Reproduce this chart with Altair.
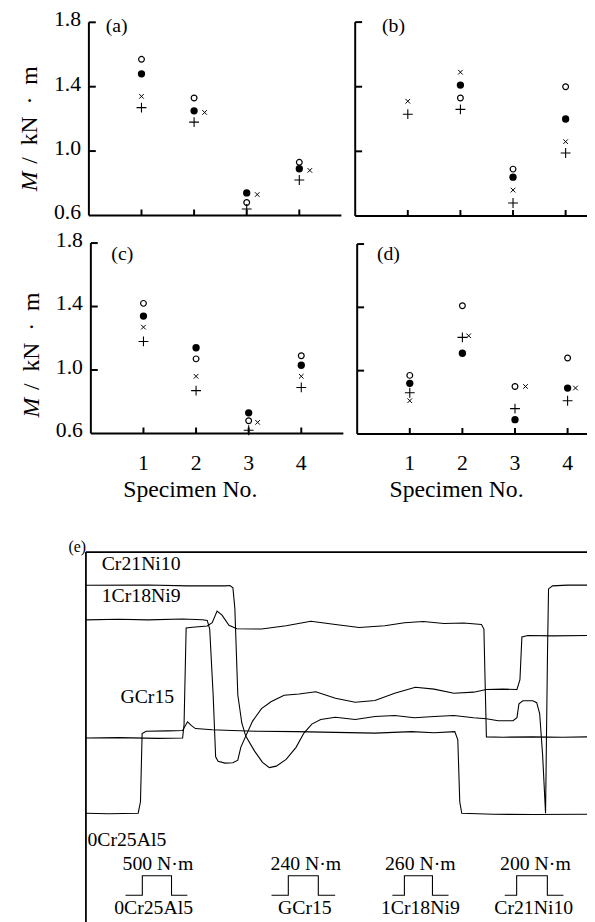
import altair as alt
import pandas as pd

FONT = "Liberation Serif"
W, H = 587, 914          # drawing canvas (page minus the 8px margin)

# ---------------- data: panels (a)-(d) ----------------
specimens = [1, 2, 3, 4]
tick_values = [0.6, 1.0, 1.4, 1.8]
tick_labels = ["0.6", "1.0", "1.4", "1.8"]

a_open = [1.57, 1.33, 0.68, 0.93]
a_filled = [1.48, 1.25, 0.74, 0.89]
a_cross = [1.34, 1.24, 0.73, 0.88]
a_cross_pos = [1.0, 2.2, 3.2, 4.2]
a_plus = [1.27, 1.18, 0.64, 0.82]

b_open = [None, 1.33, 0.89, 1.40]
b_filled = [None, 1.41, 0.84, 1.20]
b_cross = [1.31, 1.49, 0.76, 1.06]
b_cross_pos = [1.0, 2.0, 3.0, 4.0]
b_plus = [1.23, 1.26, 0.68, 0.99]

c_open = [1.42, 1.07, 0.68, 1.09]
c_filled = [1.34, 1.14, 0.73, 1.03]
c_cross = [1.27, 0.96, 0.67, 0.96]
c_cross_pos = [1.0, 2.0, 3.17, 4.0]
c_plus = [1.18, 0.87, 0.62, 0.89]

d_open = [0.97, 1.41, 0.90, 1.08]
d_filled = [0.92, 1.11, 0.69, 0.89]
d_cross = [0.81, 1.22, 0.90, 0.89]
d_cross_pos = [1.0, 2.12, 3.2, 4.15]
d_plus = [0.86, 1.21, 0.76, 0.81]

# ---------------- data: panel (e) traces (time %, signal %) ----------------
cr21_t = [0, 12.45, 20.36, 27.87, 28.85, 29.45, 29.84, 30.43, 31.23, 32.02, 33.79, 35.38, 36.76,
          38.14, 40.12, 42.10, 43.68, 45.26, 47.04, 50.00, 53.95, 57.91, 61.86, 65.81, 69.76,
          73.72, 77.67, 80.24, 82.61, 85.57, 86.36, 86.76, 87.55, 89.53, 90.32, 90.91, 91.50,
          92.09, 92.49, 92.69, 93.48, 96.44, 100.4]
cr21_u = [91.15, 91.25, 91.0, 91.0, 91.1, 90.5, 85.0, 62.0, 54.5, 51.0, 47.0, 44.0, 42.6,
          43.0, 44.8, 48.0, 51.8, 54.2, 55.4, 56.0, 55.4, 56.2, 56.5, 55.9, 56.2,
          56.5, 55.9, 55.6, 55.1, 55.1, 55.9, 59.6, 60.4, 60.4, 59.9, 57.0, 46.0,
          30.46, 74.0, 90.2, 91.0, 91.2, 91.2]

cr18_t = [0, 6.52, 12.45, 19.37, 23.32, 24.31, 24.80, 25.49, 25.99, 26.48, 27.87, 29.45, 30.43,
          31.03, 32.02, 33.40, 35.18, 37.15, 39.72, 42.69, 46.05, 50.00, 53.95, 57.91, 61.86,
          66.01, 69.76, 73.72, 77.67, 80.24, 83.60, 86.36, 86.96, 87.35, 88.54, 93.48, 100.4]
cr18_u = [81.95, 82.1, 81.95, 82.2, 82.0, 81.8, 79.5, 62.0, 45.5, 44.3, 43.8, 43.9, 44.6,
          48.0, 51.0, 55.0, 58.3, 60.2, 61.9, 62.2, 62.8, 61.1, 60.0, 60.5, 62.4,
          64.0, 63.5, 62.4, 62.7, 63.4, 63.5, 63.4, 66.0, 77.4, 77.8, 77.7, 77.8]

gcr15_t = [0, 6.52, 14.43, 19.37, 19.66, 20.08, 21.34, 24.31, 25.30, 26.28, 27.27, 28.66, 30.24,
           35.18, 40.12, 45.06, 50.00, 54.74, 59.88, 63.83, 67.59, 71.74, 75.69, 79.25, 79.74,
           80.04, 80.24, 83.60, 89.53, 95.45, 100.4]
gcr15_u = [50.5, 50.6, 50.4, 50.5, 54.0, 79.8, 80.0, 80.3, 81.2, 84.3, 83.2, 80.5, 79.6,
           79.5, 80.4, 81.6, 80.7, 79.9, 80.4, 81.2, 81.5, 81.0, 81.1, 80.7, 79.5,
           62.0, 50.8, 50.7, 50.8, 50.7, 50.8]

al5_t = [0, 4.55, 10.47, 10.93, 11.26, 12.06, 16.40, 19.37, 20.36, 21.15, 21.94, 25.30, 29.25,
         34.19, 42.10, 50.00, 57.91, 65.22, 69.76, 73.91, 74.51, 74.90, 75.30, 81.62, 89.53, 100.4]
al5_u = [30.46, 30.3, 30.46, 33.5, 51.7, 52.3, 52.4, 52.5, 54.8, 53.8, 53.0, 52.7, 52.5,
         52.3, 52.2, 52.0, 51.8, 52.2, 51.9, 52.2, 50.0, 33.5, 30.46, 30.2, 30.1, 30.2]

trace_names = ["Cr21Ni10", "1Cr18Ni9", "GCr15", "0Cr25Al5"]
trace_label_t = [3.16, 3.16, 6.92, 0.3]
trace_label_u = [96.93, 88.27, 61.47, 23.4]

pulse_names = ["0Cr25Al5", "GCr15", "1Cr18Ni9", "Cr21Ni10"]
pulse_moments = ["500 N·m", "240 N·m", "260 N·m", "200 N·m"]
pulse_edges = [[7.93, 11.30, 17.15, 20.32],
               [37.19, 40.55, 46.56, 49.94],
               [61.40, 63.81, 69.43, 72.65],
               [83.91, 86.30, 92.45, 95.67]]
pulse_base, pulse_top = 8.6, 13.8
moment_label_t = [14.43, 44.07, 67.0, 90.06]
moment_label_u = 16.8
name_label_t = [13.56, 43.87, 67.0, 89.72]
name_label_u = 5.3

PLUS = "M-1,0L1,0M0,-1L0,1"
CROSS = "M-1,-1L1,1M-1,1L1,-1"


def series_df(vals, xs=None):
    xs = xs or specimens
    rows = [{"s": s, "v": v} for s, v in zip(xs, vals) if v is not None]
    return pd.DataFrame(rows)


def text_layer(df, **kw):
    style = dict(font=FONT, fontSize=22, color="black", baseline="middle")
    style.update(kw)
    return alt.Chart(df).mark_text(**style)


def scatter_panel(open_v, filled_v, cross_v, cross_pos, plus_v, label, lab_s, lab_v,
                  xr, yr, left, bottom, title_v):
    xs = alt.Scale(domain=[0, 4.5], range=xr, nice=False, zero=False)
    ys = alt.Scale(domain=[0.6, 1.8], range=yr, nice=False, zero=False)
    X = alt.X("s:Q", scale=xs, axis=None)
    Y = alt.Y("v:Q", scale=ys, axis=None)
    px_v = (yr[0] - yr[1]) / 1.2
    px_s = (xr[1] - xr[0]) / 4.5

    # axis lines and inward ticks
    lines = pd.DataFrame({"s": [0, 0], "v": [0.6, 0.6], "s2": [4.8, 0], "v2": [0.6, 1.8]})
    xt = pd.DataFrame({"s": specimens, "v": [0.6] * 4, "s2": specimens,
                       "v2": [0.6 + 6 / px_v] * 4})
    yt = pd.DataFrame({"s": [0] * 3, "v": tick_values[1:], "s2": [7 / px_s] * 3,
                       "v2": tick_values[1:]})
    rules = alt.Chart(pd.concat([lines, xt, yt])).mark_rule(
        color="black", strokeWidth=2).encode(x=X, y=Y, x2="s2:Q", y2="v2:Q")

    op = alt.Chart(series_df(open_v)).mark_point(
        shape="circle", filled=True, fill="white", stroke="black", strokeWidth=1.2,
        size=34, opacity=1).encode(x=X, y=Y)
    fp = alt.Chart(series_df(filled_v)).mark_point(
        shape="circle", filled=True, color="black", size=55, opacity=1).encode(x=X, y=Y)
    cp = alt.Chart(series_df(cross_v, cross_pos)).mark_point(
        shape=CROSS, filled=False, color="black", strokeWidth=1, size=22, opacity=1
    ).encode(x=X, y=Y)
    pp = alt.Chart(series_df(plus_v)).mark_point(
        shape=PLUS, filled=False, color="black", strokeWidth=1.1, size=100, opacity=1
    ).encode(x=X, y=Y)
    lab = text_layer(pd.DataFrame({"s": [lab_s], "v": [lab_v], "t": [label]}),
                     align="left", fontSize=20, dy=-3).encode(x=X, y=Y, text="t:N")
    layers = [rules, op, fp, cp, pp, lab]
    if left:
        layers.append(text_layer(pd.DataFrame({"s": [0] * 4, "v": tick_values, "t": tick_labels}),
                                 align="right", dx=-8, dy=-3).encode(x=X, y=Y, text="t:N"))
        m_w = 20
        layers.append(text_layer(pd.DataFrame({"s": [0], "v": [title_v], "t": ["M"]}),
                                 align="left", angle=270, dy=-60, fontSize=24,
                                 fontStyle="italic").encode(x=X, y=Y, text="t:N"))
        layers.append(text_layer(pd.DataFrame({"s": [0], "v": [title_v + (m_w + 8) / px_v],
                                               "t": ["/\u2002kN\u2002·\u2002m"]}),
                                 align="left", angle=270, dy=-60, fontSize=24
                                 ).encode(x=X, y=Y, text="t:N"))
    if bottom:
        layers.append(text_layer(pd.DataFrame({"s": specimens, "v": [0.6] * 4,
                                               "t": [str(k) for k in specimens]}),
                                 align="center", dy=30).encode(x=X, y=Y, text="t:N"))
        layers.append(text_layer(pd.DataFrame({"s": [1.89], "v": [0.6], "t": ["Specimen No."]}),
                                 align="center", dy=57, fontSize=24).encode(x=X, y=Y, text="t:N"))
    return alt.layer(*layers)


pa = scatter_panel(a_open, a_filled, a_cross, a_cross_pos, a_plus, "(a)", 0.32, 1.76,
                   [82, 322], [204, 8.2], True, False, 0.75)
pb = scatter_panel(b_open, b_filled, b_cross, b_cross_pos, b_plus, "(b)", 0.51, 1.76,
                   [352, 592], [204.5, 8.0], False, False, 0.75)
pc = scatter_panel(c_open, c_filled, c_cross, c_cross_pos, c_plus, "(c)", 0.39, 1.71,
                   [84, 324], [425, 232], True, True, 0.70)
pd_ = scatter_panel(d_open, d_filled, d_cross, d_cross_pos, d_plus, "(d)", 0.375, 1.72,
                    [354, 594], [425.5, 233], False, True, 0.70)

# ---------------- panel (e) ----------------
ex = alt.Scale(domain=[0, 100], range=[79, 585], nice=False, zero=False)
ey = alt.Scale(domain=[0, 100], range=[926, 545.3], nice=False, zero=False)
EX = alt.X("t:Q", scale=ex, axis=None)
EY = alt.Y("u:Q", scale=ey, axis=None)

frame = alt.Chart(pd.DataFrame({"t": [0, 0], "u": [100, 100], "t2": [101, 0], "u2": [100, -5]})
                  ).mark_rule(color="black", strokeWidth=1.8).encode(x=EX, y=EY, x2="t2:Q", y2="u2:Q")

rows = []
for name, ts, us in zip(trace_names, [cr21_t, cr18_t, gcr15_t, al5_t],
                        [cr21_u, cr18_u, gcr15_u, al5_u]):
    for i, (t, u) in enumerate(zip(ts, us)):
        rows.append({"trace": name, "i": i, "t": t, "u": u})
traces = alt.Chart(pd.DataFrame(rows)).mark_line(
    color="black", strokeWidth=1.1, interpolate="linear"
).encode(x=EX, y=EY, detail="trace:N", order="i:Q")

prow = []
for name, e in zip(pulse_names, pulse_edges):
    pts = [(e[0], pulse_base), (e[1], pulse_base), (e[1], pulse_top),
           (e[2], pulse_top), (e[2], pulse_base), (e[3], pulse_base)]
    for i, (t, u) in enumerate(pts):
        prow.append({"p": name, "i": i, "t": t, "u": u})
pulses = alt.Chart(pd.DataFrame(prow)).mark_line(color="black", strokeWidth=1.1).encode(
    x=EX, y=EY, detail="p:N", order="i:Q")

tl = text_layer(pd.DataFrame({"t": trace_label_t, "u": trace_label_u, "txt": trace_names}),
                align="left", fontSize=20).encode(x=EX, y=EY, text="txt:N")
ml = text_layer(pd.DataFrame({"t": moment_label_t, "u": [moment_label_u] * 4, "txt": pulse_moments}),
                align="center", fontSize=20).encode(x=EX, y=EY, text="txt:N")
nl = text_layer(pd.DataFrame({"t": name_label_t, "u": [name_label_u] * 4, "txt": pulse_names}),
                align="center", fontSize=20).encode(x=EX, y=EY, text="txt:N")
el = text_layer(pd.DataFrame({"t": [-3.5], "u": [101.4], "txt": ["(e)"]}),
                align="left", fontSize=16).encode(x=EX, y=EY, text="txt:N")

pe = alt.layer(frame, traces, pulses, tl, ml, nl, el)

chart = alt.layer(pa, pb, pc, pd_, pe).resolve_scale(
    x="independent", y="independent"
).properties(
    width=W, height=H, padding=0, autosize=alt.AutoSizeParams(type="none")
).configure_view(stroke="transparent")

chart.save("out.html", embed_options={"renderer": "svg", "actions": False})
